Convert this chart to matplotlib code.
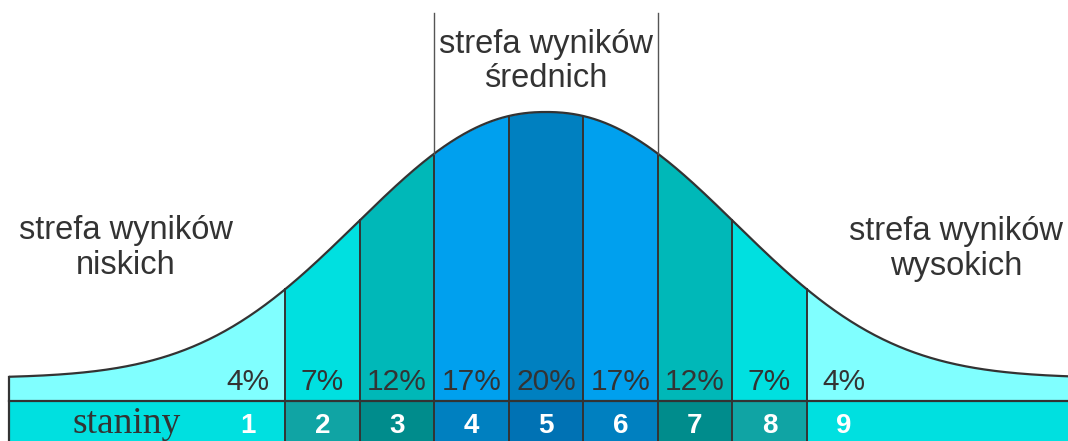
import matplotlib.pyplot as plt
import numpy as np

# stanine data
stanines = [1, 2, 3, 4, 5, 6, 7, 8, 9]
percents = ['4%', '7%', '12%', '17%', '20%', '17%', '12%', '7%', '4%']
fill_colors = ['#80ffff', '#00e0e0', '#00b8b8', '#00a0ee', '#0080c0',
               '#00a0ee', '#00b8b8', '#00e0e0', '#80ffff']
strip_colors = ['#00e0e0', '#10a4a4', '#008c8c', '#0080c0', '#0072b4',
                '#0080c0', '#008c8c', '#10a4a4', '#00e0e0']
zone_low = ['strefa wyników', 'niskich']
zone_mid = ['strefa wyników', 'średnich']
zone_high = ['strefa wyników', 'wysokich']
strip_label = 'staniny'


def bell(x):
    # schematic bell shape (height above baseline), x in stanine units
    return 23 + 266 * np.exp(-(np.abs(x - 5) / 3.356) ** 2.2)


x_left, x_right = -2.21, 12.1
edges = [x_left] + [s + 0.5 for s in stanines[:-1]] + [x_right]

fig = plt.figure(figsize=(10.68, 4.41), dpi=100)
ax = fig.add_axes([0, 0, 1, 1])
ax.set_xlim(5 - 546 / 74.5, 5 + 522 / 74.5)
ax.set_ylim(-40, 401)
ax.axis('off')

dark = '#333333'
for i in range(len(stanines)):
    xs = np.linspace(edges[i], edges[i + 1], 200)
    ax.fill_between(xs, 0, bell(xs), color=fill_colors[i], lw=0)
    ax.fill_between([edges[i], edges[i + 1]], -40, 0, color=strip_colors[i], lw=0)
    ax.text(stanines[i], 11, percents[i], ha='center', va='baseline',
            fontsize=21.5, color=dark, family='Liberation Sans')
    ax.text(stanines[i], -32, str(stanines[i]), ha='center', va='baseline',
            fontsize=20, color='white', fontweight='bold', family='Liberation Sans')

# curve outline
xs = np.linspace(x_left, x_right, 800)
ax.plot(xs, bell(xs), color=dark, lw=1.6, solid_capstyle='butt')
ax.plot([x_left, x_left], [-40, bell(x_left)], color=dark, lw=1.6)
ax.plot([x_left, x_right], [0, 0], color=dark, lw=1.6)

# band boundaries
for e in edges[1:-1]:
    ax.plot([e, e], [-40, bell(e)], color=dark, lw=1.4)

# middle zone markers
for e in [3.5, 6.5]:
    ax.plot([e, e], [bell(e), 388], color='#555555', lw=1.0)

# zone labels
txt = dict(ha='center', va='baseline', fontsize=23.5, color=dark, family='Liberation Sans')
ax.text(5, 401 - 53, zone_mid[0], **txt)
ax.text(5, 401 - 87, zone_mid[1], **txt)
ax.text(5 - 420 / 74.5, 401 - 239, zone_low[0], **txt)
ax.text(5 - 420 / 74.5, 401 - 274, zone_low[1], **txt)
ax.text(5 + 410 / 74.5, 401 - 240, zone_high[0], **txt)
ax.text(5 + 410 / 74.5, 401 - 275, zone_high[1], **txt)

ax.text(5 - 419 / 74.5, -32, strip_label, ha='center', va='baseline',
        fontsize=27, color=dark, family='Liberation Serif')

fig.savefig('out.png', dpi=100)
